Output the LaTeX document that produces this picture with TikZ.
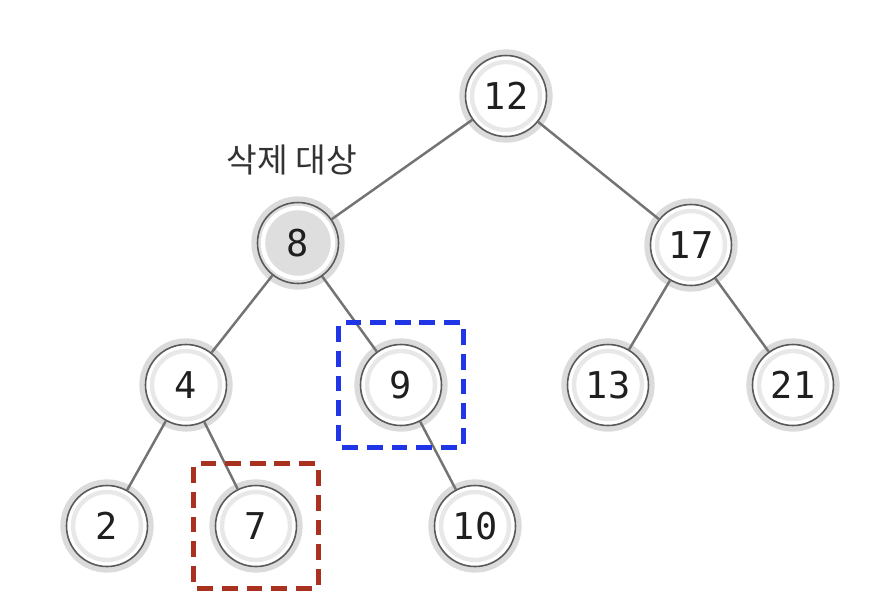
\documentclass[tikz,border=0pt]{standalone}
\usepackage{fontspec}
\setmonofont{DejaVu Sans Mono}
\newfontfamily\krfont{Noto Sans CJK KR}
\usepackage{xcolor}
\usepackage{tikz}
\usetikzlibrary{positioning,fit}
\definecolor{selblue}{HTML}{1F35E6}
\definecolor{selred}{HTML}{A8321F}
\begin{document}
\begin{tikzpicture}[
    key/.style={circle, draw=black!65, fill=white, minimum size=1.62cm, inner sep=0pt, line width=0.9pt,
        font=\ttfamily\fontsize{21}{22}\selectfont, text=black!88,
        preaction={draw=black!14, line width=7pt},
        path picture={\draw[black!9, line width=2.5pt] (path picture bounding box.center) circle (0.68cm);}},
    target/.style={key, fill=black!13,
        path picture={\draw[white, line width=2.5pt] (path picture bounding box.center) circle (0.7cm);}},
    link/.style={black!55, line width=1.4pt},
    selbox/.style={draw, dashed, dash pattern=on 9pt off 5pt, line width=2.6pt, rounded corners=2pt, inner sep=0.42cm},
]
\useasboundingbox (0,0) rectangle (17.4,-12.08);
\node[key] (n12) at (10.12, -1.92) {12};
\node[target] (n8) at (5.96, -4.86) {8};
\node[key] (n17) at (13.82, -4.90) {17};
\node[key] (n4) at (3.72, -7.70) {4};
\node[key] (n9) at (8.02, -7.70) {9};
\node[key] (n13) at (12.16, -7.70) {13};
\node[key] (n21) at (15.86, -7.70) {21};
\node[key] (n2) at (2.14, -10.52) {2};
\node[key] (n7) at (5.12, -10.52) {7};
\node[key] (n10) at (9.50, -10.52) {10};
\draw[link] (n12) -- (n8); \draw[link] (n12) -- (n17);
\draw[link] (n8) -- (n4); \draw[link] (n8) -- (n9);
\draw[link] (n17) -- (n13); \draw[link] (n17) -- (n21);
\draw[link] (n4) -- (n2); \draw[link] (n4) -- (n7);
\draw[link] (n9) -- (n10);
\node[font=\krfont\fontsize{19}{21}\selectfont, text=black!80] (lbl) at (5.84, -3.20) {삭제 대상};
\node[selbox, draw=selblue, fit=(n9)] (box9) {};
\node[selbox, draw=selred, fit=(n7)] (box7) {};
\end{tikzpicture}
\end{document}
